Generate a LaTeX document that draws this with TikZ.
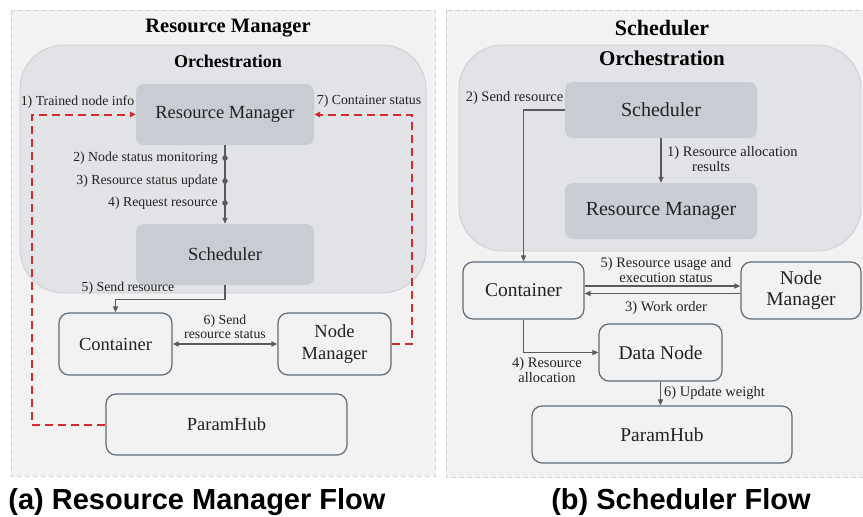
\documentclass[tikz,border=0pt]{standalone}
\usepackage{fontspec}
\setmainfont{Liberation Serif}
\newfontfamily\bodyserif{Liberation Serif}
\newfontfamily\capfont{Liberation Sans}
\usetikzlibrary{arrows.meta,positioning}

\definecolor{panelbg}{HTML}{F2F2F2}
\definecolor{panelline}{HTML}{CFD5DC}
\definecolor{orchbg}{HTML}{E1E3E6}
\definecolor{orchline}{HTML}{C9CDD2}
\definecolor{innerbg}{HTML}{C9CDD3}
\definecolor{boxline}{HTML}{5F6B78}
\definecolor{arrowgray}{HTML}{5A5A5A}
\definecolor{reddash}{HTML}{D42A2A}
\definecolor{txt}{HTML}{222222}

\newcommand\sz[2]{\bodyserif\fontsize{#1}{#2}\selectfont}

\tikzset{
  panel/.style={fill=panelbg, draw=panelline, dashed, dash pattern=on 5pt off 3pt, line width=0.8pt},
  orch/.style={fill=orchbg, draw=orchline, line width=0.8pt, rounded corners=44pt},
  inner/.style={fill=innerbg, draw=none, rounded corners=8pt, inner sep=0pt, text=txt},
  outer/.style={fill=panelbg, draw=boxline, line width=1.2pt, rounded corners=10pt, inner sep=0pt, text=txt, align=center},
  ttl/.style={font=\bodyserif\bfseries\fontsize{#1}{#1}\selectfont, text=black, inner sep=0pt},
  lbl/.style={font=\sz{#1}{#1}, text=txt, inner sep=0pt, align=center},
  arr/.style={draw=arrowgray, line width=1.3pt, -{Triangle[length=6pt,width=5pt]}},
  darr/.style={draw=arrowgray, line width=1.3pt, {Triangle[length=6pt,width=5pt]}-{Triangle[length=6pt,width=5pt]}},
  redarr/.style={draw=reddash, line width=2pt, dash pattern=on 8pt off 5pt, -{Triangle[length=6pt,width=5.5pt]}},
  dot/.style={circle, fill=arrowgray, inner sep=0pt, minimum size=5.5pt},
  caption/.style={font=\capfont\bfseries\fontsize{29}{29}\selectfont, text=black, inner sep=0pt, anchor=base}
}

\begin{document}
\begin{tikzpicture}[x=1pt,y=-1pt]
\useasboundingbox (0,0) rectangle (863,517);
\fill[white] (0,0) rectangle (863,517);

% ---------------- (a) Resource Manager flow ----------------
\path[panel] (11,10) rectangle (435,476);
\path[orch] (20,45) rectangle (426,293);
\node[ttl=20.5] (ta) at (228,28) {Resource Manager};
\node[ttl=18] (oa) at (228,61) {Orchestration};

\node[inner, minimum width=178pt, minimum height=61pt, font=\sz{18.5}{22}] (rm) at (225,114.5) {Resource Manager};
\node[inner, minimum width=178pt, minimum height=61pt, font=\sz{18.5}{22}] (sch) at (225,254.5) {Scheduler};

\node[outer, minimum width=113pt, minimum height=62pt, font=\sz{18.5}{22}] (cont) at (115.5,344) {Container};
\node[outer, minimum width=113pt, minimum height=62pt, font=\sz{18.5}{22}] (nm) at (334.5,344) {Node\\Manager};
\node[outer, minimum width=241pt, minimum height=61pt, font=\sz{18.5}{22}] (ph) at (226.5,424.5) {ParamHub};

% status chain from the resource manager to the scheduler
\draw[arr] (rm.south) -- (sch.north);
\node[dot] (d2) at (225,158) {};
\node[dot] (d3) at (225,181) {};
\node[dot] (d4) at (225,203) {};
\node[lbl=13.8, anchor=east] (l2) at (218,158) {2) Node status monitoring};
\node[lbl=13.8, anchor=east] (l3) at (218,181) {3) Resource status update};
\node[lbl=13.8, anchor=east] (l4) at (218,203) {4) Request resource};

% scheduler to container
\draw[arr] (sch.south) -- ++(0,14) -| (cont.north);
\node[lbl=13.8] (l5) at (128,288) {5) Send resource};

% container <-> node manager
\draw[darr] (cont.east) -- (nm.west);
\node[lbl=13.8, font=\sz{13.8}{14.5}] (l6) at (225,327) {6) Send\\resource status};

% dashed feedback loops
\draw[redarr] (ph.west) -- ++(-73,0) |- (rm.west);
\draw[redarr] (nm.east) -- ++(20,0) |- (rm.east);
\node[lbl=13.8] (l1) at (77.5,102) {1) Trained node info};
\node[lbl=13.8] (l7) at (369,101) {7) Container status};

\node[caption] (capa) at (197,509) {(a) Resource Manager Flow};

% ---------------- (b) Scheduler flow ----------------
\path[panel] (446,10) rectangle (870,477);
\path[orch] (459,45) rectangle (861,251);
\node[ttl=22] (tb) at (662,28) {Scheduler};
\node[ttl=21] (ob) at (662,58) {Orchestration};

\node[inner, minimum width=192pt, minimum height=56pt, font=\sz{20}{23}] (s2) at (661,110) {Scheduler};
\node[inner, minimum width=192pt, minimum height=56pt, font=\sz{20}{23}] (r2) at (661,211) {Resource Manager};

\node[outer, minimum width=121pt, minimum height=57pt, font=\sz{19.5}{21}] (c2) at (523.5,290.5) {Container};
\node[outer, minimum width=120pt, minimum height=57pt, font=\sz{19.5}{21}] (nm2) at (801,290.5) {Node\\Manager};
\node[outer, minimum width=123pt, minimum height=57pt, font=\sz{19.5}{21}] (dn) at (660.5,352.5) {Data Node};
\node[outer, minimum width=260pt, minimum height=57pt, font=\sz{19.5}{21}] (ph2) at (662,434.5) {ParamHub};

% scheduler to resource manager
\draw[arr] (s2.south) -- (r2.north);
\node[lbl=14.5, anchor=west, align=left, font=\sz{14.5}{15}] (m1) at (667,159.5) {1) Resource allocation\\\hspace*{25pt}results};

% scheduler to container
\draw[arr] (s2.west) -| (c2.north);
\node[lbl=14.5] (m2) at (514.5,98) {2) Send resource};

% container <-> node manager
\draw[arr] ([yshift=4.5pt]c2.east) -- ([yshift=4.5pt]nm2.west);
\draw[arr] ([yshift=-3pt]nm2.west) -- ([yshift=-3pt]c2.east);
\node[lbl=14.5, font=\sz{14.5}{14.5}] (m5) at (666,270) {5) Resource usage and\\execution status};
\node[lbl=14.5] (m3) at (666,308) {3) Work order};

% container to data node
\draw[arr] (c2.south) |- (dn.west);
\node[lbl=14.5, font=\sz{14.5}{14.5}] (m4) at (547,370) {4) Resource\\allocation};

% data node to paramhub
\draw[arr] (dn.south) -- (dn.south |- ph2.north);
\node[lbl=14.5, anchor=west] (m6) at (664,393) {6) Update weight};

\node[caption] (capb) at (681,509) {(b) Scheduler Flow};
\end{tikzpicture}
\end{document}
